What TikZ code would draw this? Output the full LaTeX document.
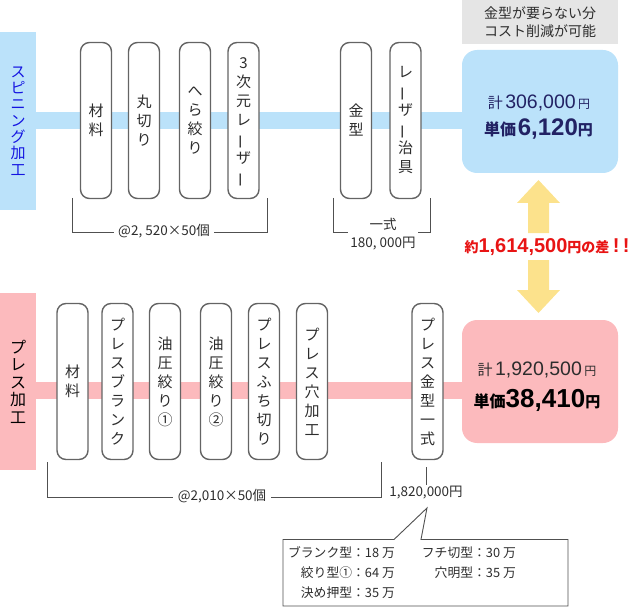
\documentclass[tikz,border=0pt]{standalone}
\usepackage{fontspec}
\usepackage{graphicx}
\setmainfont{Noto Sans CJK JP}
\newfontfamily\numfont{Liberation Sans}
\definecolor{bandblue}{RGB}{187,226,250}
\definecolor{bandpink}{RGB}{252,186,189}
\definecolor{arrowyellow}{RGB}{252,226,140}
\definecolor{notegray}{RGB}{229,229,229}
\definecolor{boxgray}{RGB}{100,100,100}
\definecolor{textgray}{RGB}{45,45,45}
\definecolor{linegray}{RGB}{80,80,80}
\definecolor{spinblue}{RGB}{20,20,225}
\definecolor{navy}{RGB}{34,34,100}
\definecolor{diffred}{RGB}{232,20,20}
\newcommand\vchou{\smash{\rotatebox[origin=c]{90}{ー}}}
\tikzset{
  procbox/.style={draw=boxgray, line width=1.4pt, fill=white, rounded corners=9pt,
    minimum width=31pt, minimum height=156pt, inner sep=0pt, align=center,
    font=\fontsize{15}{19}\selectfont, text=textgray},
  lblbox/.style={minimum width=36pt, inner sep=0pt, align=center},
  resbox/.style={rounded corners=15pt, minimum width=156pt, minimum height=123pt, inner sep=0pt},
  bracket/.style={draw=linegray, line width=0.9pt},
  smalltxt/.style={font=\fontsize{13.5}{18}\selectfont, text=textgray, inner sep=1pt},
  calltxt/.style={font=\fontsize{12.8}{15}\selectfont, text=textgray, inner sep=0pt, anchor=east},
}
\begin{document}
\begin{tikzpicture}[x=1pt,y=-1pt]
\useasboundingbox (0,0) rectangle (635,607);
% bands
\fill[bandblue] (36,112) rectangle (462,129);
\fill[bandpink] (36,382) rectangle (462,399);
% row labels
\node[lblbox, fill=bandblue, text=spinblue, minimum height=178pt, font=\fontsize{15}{16.3}\selectfont] (spin) at (18,121) {ス\\ピ\\ニ\\ン\\グ\\加\\工};
\node[lblbox, fill=bandpink, text=black, minimum height=177pt, font=\fontsize{16}{17.5}\selectfont] (press) at (18,381.5) {プ\\レ\\ス\\加\\工};
% top process boxes
\node[procbox] (s1) at (96,120.5) {材\\料};
\node[procbox] (s2) at (144,120.5) {丸\\切\\り};
\node[procbox] (s3) at (195,120.5) {へ\\ら\\絞\\り};
\node[procbox] (s4) at (243.5,120.5) {3\\次\\元\\レ\\\vchou\\ザ\\\vchou};
\node[procbox] (s5) at (356,120.5) {金\\型};
\node[procbox] (s6) at (405.5,120.5) {レ\\\vchou\\ザ\\\vchou\\治\\具};
% bottom process boxes
\node[procbox] (p1) at (72.5,381.5) {材\\料};
\node[procbox] (p2) at (117.5,381.5) {プ\\レ\\ス\\ブ\\ラ\\ン\\ク};
\node[procbox] (p3) at (165,381.5) {油\\圧\\絞\\り\\①};
\node[procbox] (p4) at (216,381.5) {油\\圧\\絞\\り\\②};
\node[procbox] (p5) at (264,381.5) {プ\\レ\\ス\\ふ\\ち\\切\\り};
\node[procbox] (p6) at (312,381.5) {プ\\レ\\ス\\穴\\加\\工};
\node[procbox] (p7) at (427.5,381.5) {プ\\レ\\ス\\金\\型\\一\\式};
% result boxes
\node[resbox, fill=bandblue] (rblue) at (540,111.5) {};
\node[resbox, fill=bandpink] (rpink) at (540,381.5) {};
\node[fill=notegray, minimum width=156pt, minimum height=44pt, inner sep=0pt, align=center,
  font=\fontsize{14}{18}\selectfont, text=textgray] (note) at (540,22) {金型が要らない分\\コスト削減が可能};
\node[text=navy, inner sep=0pt, font=\fontsize{15}{18}\selectfont] (bt1) at (539,103)
  {計\,{\numfont\fontsize{19.5}{20}\selectfont 306,000}\,{\fontsize{12}{12}\selectfont 円}};
\node[text=navy, inner sep=0pt] (bt2) at (538.5,129)
  {{\bfseries\fontsize{16}{16}\selectfont 単価}\,{\numfont\bfseries\fontsize{24}{24}\selectfont 6,120}{\bfseries\fontsize{15}{15}\selectfont 円}};
\node[text=textgray, inner sep=0pt, font=\fontsize{15}{18}\selectfont] (pt1) at (537,370)
  {計\,{\numfont\fontsize{19.5}{20}\selectfont 1,920,500}\,{\fontsize{12}{12}\selectfont 円}};
\node[text=black, inner sep=0pt] (pt2) at (537,400)
  {{\bfseries\fontsize{16}{16}\selectfont 単価}{\numfont\bfseries\fontsize{26}{26}\selectfont 38,410}{\bfseries\fontsize{15}{15}\selectfont 円}};
% arrows
\fill[arrowyellow] (528,233) -- (528,203) -- (517,203) -- (538.5,180) -- (560,203) -- (549,203) -- (549,233) -- cycle;
\fill[arrowyellow] (528,260) -- (528,290) -- (517,290) -- (538.5,313) -- (560,290) -- (549,290) -- (549,260) -- cycle;
\node[text=diffred, inner sep=0pt] (diff) at (547,247)
  {{\bfseries\fontsize{14}{14}\selectfont 約}{\numfont\bfseries\fontsize{20}{20}\selectfont 1,614,500}{\bfseries\fontsize{14}{14}\selectfont 円の差}{\numfont\bfseries\fontsize{20}{20}\selectfont\,!\,!}};
% top brackets
\coordinate (tb1) at (72,198); \coordinate (tb2) at (267,198);
\draw[bracket] (tb1) -- (72,232) -- (267,232) -- (tb2);
\node[smalltxt, fill=white, inner xsep=4pt] (tbl) at (164,231) {@2, 520×50個};
\coordinate (tc1) at (333,198); \coordinate (tc2) at (430,198);
\draw[bracket] (tc1) -- (333,232.5) -- (430,232.5) -- (tc2);
\node[smalltxt, fill=white, align=center, inner xsep=2pt] (tcl) at (383,234) {一式\\180, 000円};
% bottom bracket
\coordinate (bb1) at (47,462); \coordinate (bb2) at (381,462);
\draw[bracket] (bb1) -- (47,497) -- (381,497) -- (bb2);
\node[smalltxt, fill=white, inner xsep=5pt] (bbl) at (222,496) {@2,010×50個};
\node[smalltxt] (mold) at (426,492.5) {1,820,000円};
\coordinate (tick) at (426,467);
\draw[bracket] (tick) -- (mold.north);
% callout
\draw[draw=linegray, line width=0.9pt, fill=white] (283,539.5) -- (394,539.5) -- (427,508) -- (421,539.5) -- (568,539.5) -- (568,606) -- (283,606) -- cycle;
\node[calltxt] (c1) at (395,553) {ブランク型：18 万};
\node[calltxt] (c2) at (395,573) {絞り型①：64 万};
\node[calltxt] (c3) at (395,593) {決め押型：35 万};
\node[calltxt] (c4) at (516,553) {フチ切型：30 万};
\node[calltxt] (c5) at (516,573) {穴明型：35 万};
\end{tikzpicture}
\end{document}
